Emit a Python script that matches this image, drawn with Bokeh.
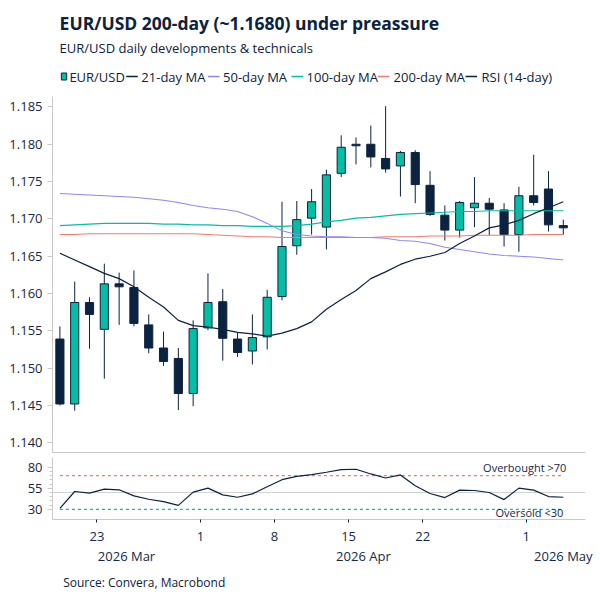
from bokeh.plotting import figure
from bokeh.layouts import column
from bokeh.models import Range1d, FixedTicker, LinearAxis, NumeralTickFormatter
from bokeh.core.properties import value
from bokeh.embed import file_html
from bokeh.resources import INLINE

# ---- data -------------------------------------------------------------
dates = ["2026-03-18", "2026-03-19", "2026-03-20",
         "2026-03-23", "2026-03-24", "2026-03-25", "2026-03-26", "2026-03-27",
         "2026-03-30", "2026-03-31", "2026-04-01", "2026-04-02", "2026-04-03",
         "2026-04-06", "2026-04-07", "2026-04-08", "2026-04-09", "2026-04-10",
         "2026-04-13", "2026-04-14", "2026-04-15", "2026-04-16", "2026-04-17",
         "2026-04-20", "2026-04-21", "2026-04-22", "2026-04-23", "2026-04-24",
         "2026-04-27", "2026-04-28", "2026-04-29", "2026-04-30", "2026-05-01",
         "2026-05-04", "2026-05-05"]

open_ = [1.1539, 1.1452, 1.1588, 1.1552, 1.1613, 1.1608, 1.1558, 1.1527, 1.1513, 1.1466,
         1.1554, 1.1589, 1.1539, 1.1523, 1.1542, 1.1596, 1.1664, 1.1701, 1.1689, 1.1761,
         1.1800, 1.1800, 1.1781, 1.1771, 1.1789, 1.1745, 1.1705, 1.1685, 1.1715, 1.1721,
         1.1712, 1.1679, 1.1731, 1.1740, 1.1691]
high = [1.1556, 1.1616, 1.1595, 1.1640, 1.1628, 1.1631, 1.1572, 1.1549, 1.1527, 1.1564,
        1.1627, 1.1606, 1.1548, 1.1572, 1.1605, 1.1723, 1.1724, 1.1740, 1.1766, 1.1812,
        1.1809, 1.1825, 1.1851, 1.1791, 1.1792, 1.1764, 1.1718, 1.1724, 1.1756, 1.1728,
        1.1721, 1.1743, 1.1786, 1.1764, 1.1699]
low = [1.1450, 1.1443, 1.1526, 1.1486, 1.1558, 1.1556, 1.1520, 1.1503, 1.1444, 1.1449,
       1.1551, 1.1510, 1.1515, 1.1505, 1.1525, 1.1591, 1.1652, 1.1679, 1.1659, 1.1756,
       1.1773, 1.1769, 1.1762, 1.1730, 1.1721, 1.1704, 1.1671, 1.1675, 1.1689, 1.1678,
       1.1663, 1.1656, 1.1718, 1.1683, 1.1679]
close = [1.1452, 1.1588, 1.1572, 1.1613, 1.1609, 1.1560, 1.1527, 1.1509, 1.1466, 1.1553,
         1.1588, 1.1540, 1.1521, 1.1541, 1.1595, 1.1663, 1.1699, 1.1723, 1.1759, 1.1796,
         1.1798, 1.1783, 1.1767, 1.1789, 1.1746, 1.1706, 1.1685, 1.1722, 1.1721, 1.1713,
         1.1679, 1.1731, 1.1722, 1.1692, 1.1688]

ma21 = [1.1654, 1.1645, 1.1636, 1.1627, 1.1620, 1.1609, 1.1595, 1.1582, 1.1564, 1.1557,
        1.1555, 1.1552, 1.1548, 1.1546, 1.1543, 1.1547, 1.1553, 1.1562, 1.1579, 1.1592,
        1.1604, 1.1620, 1.1629, 1.1639, 1.1646, 1.1650, 1.1655, 1.1667, 1.1677, 1.1688,
        1.1692, 1.1698, 1.1707, 1.1715, 1.1723]
ma50 = [1.1734, 1.1733, 1.1732, 1.1731, 1.1730, 1.1729, 1.1727, 1.1725, 1.1722, 1.1718,
        1.1715, 1.1713, 1.1710, 1.1703, 1.1694, 1.1684, 1.1679, 1.1677, 1.1676, 1.1676,
        1.1675, 1.1675, 1.1674, 1.1671, 1.1670, 1.1667, 1.1662, 1.1659, 1.1656, 1.1653,
        1.1651, 1.1650, 1.1649, 1.1647, 1.1645]
ma100 = [1.1691, 1.1692, 1.1693, 1.1694, 1.1694, 1.1694, 1.1694, 1.1693, 1.1693, 1.1692,
         1.1692, 1.1691, 1.1691, 1.1690, 1.1690, 1.1690, 1.1691, 1.1693, 1.1696, 1.1698,
         1.1701, 1.1702, 1.1704, 1.1706, 1.1707, 1.1708, 1.1709, 1.1710, 1.1710, 1.1711,
         1.1711, 1.1711, 1.1711, 1.1711, 1.1711]
ma200 = [1.1679, 1.1679, 1.1680, 1.1680, 1.1680, 1.1680, 1.1680, 1.1680, 1.1680, 1.1680,
         1.1679, 1.1678, 1.1677, 1.1676, 1.1676, 1.1675, 1.1675, 1.1675, 1.1675, 1.1675,
         1.1675, 1.1675, 1.1676, 1.1676, 1.1676, 1.1677, 1.1677, 1.1677, 1.1678, 1.1678,
         1.1678, 1.1678, 1.1679, 1.1679, 1.1679]
rsi = [31.2, 51.2, 49.2, 54.0, 53.2, 46.0, 42.0, 39.2, 34.8, 50.4,
       55.2, 47.2, 44.4, 48.4, 56.8, 65.2, 69.2, 71.2, 74.0, 77.2,
       77.6, 72.0, 67.2, 70.8, 58.0, 48.8, 44.0, 52.8, 52.4, 50.0,
       41.6, 55.2, 52.8, 45.2, 44.4]

day_tick_dates = ["2026-03-23", "2026-04-01", "2026-04-08", "2026-04-15",
                  "2026-04-22", "2026-05-01"]
months = ["2026-03", "2026-04", "2026-05"]
month_labels = ["2026 Mar", "2026 Apr", "2026 May"]
price_ticks = [1.140, 1.145, 1.150, 1.155, 1.160, 1.165, 1.170, 1.175, 1.180, 1.185]
rsi_ticks = [30, 55, 80]
rsi_minor = [35, 40, 45, 50, 60, 65, 70, 75]
overbought = 70
oversold = 30
rsi_mid = 50

title = "EUR/USD 200-day (~1.1680) under preassure"
subtitle = "EUR/USD daily developments & technicals"
source = "Source: Convera, Macrobond"
legend_names = ["EUR/USD", "21-day MA", "50-day MA", "100-day MA", "200-day MA", "RSI (14-day)"]

# ---- style ------------------------------------------------------------
FONT = "Open Sans"
NAVY = "#0b2240"
TEXT = "#14284a"
TEAL = "#00bfa5"
PURPLE = "#9585f0"
SALMON = "#f07c70"
AXIS = "#c9c9c9"
W = 600

idx = list(range(len(dates)))
x_range = Range1d(-0.5, len(dates) - 0.5 + 1)


def blank(h):
    f = figure(width=W, height=h, x_range=Range1d(0, W), y_range=Range1d(h, 0),
               toolbar_location=None, output_backend="svg", min_border=0)
    f.axis.visible = False
    f.grid.visible = False
    f.outline_line_color = None
    return f


# ---- header: title, subtitle, legend ----------------------------------
head = blank(90)
head.text(x=[8], y=[22.5], text=[title], text_font=value(FONT), text_font_size="17.5px",
          text_font_style="bold", text_color=NAVY, text_baseline="middle")
head.text(x=[8], y=[47], text=[subtitle], text_font=value(FONT), text_font_size="13px",
          text_color=NAVY, text_baseline="middle")

leg_y = 76
head.rect(x=[13], y=[leg_y], width=6, height=7, fill_color=TEAL, line_color=NAVY, line_width=1)
leg_line_x = [83, 175, 269, 366, 465]
leg_text_x = [19, 100, 192, 286, 384, 483]
leg_colors = [NAVY, PURPLE, TEAL, SALMON, NAVY]
for x0, c in zip(leg_line_x, leg_colors):
    head.segment(x0=[x0], y0=[leg_y], x1=[x0 + 13], y1=[leg_y], line_color=c, line_width=1.5)
head.text(x=leg_text_x, y=[leg_y] * len(leg_text_x), text=legend_names,
          text_font=value(FONT), text_font_size="13px", text_color=NAVY,
          text_baseline="middle")

# ---- price panel --------------------------------------------------------
main = figure(width=W, height=365, x_range=x_range, y_range=Range1d(1.1387, 1.1864),
              toolbar_location=None, output_backend="svg",
              min_border_left=52, min_border_right=15, min_border_top=6, min_border_bottom=3)
main.grid.visible = False
main.outline_line_color = None

body_top = [max(o, c) for o, c in zip(open_, close)]
body_bot = [min(o, c) for o, c in zip(open_, close)]
body_col = [TEAL if c > o else NAVY for o, c in zip(open_, close)]

main.segment(x0=idx, y0=low, x1=idx, y1=high, line_color=NAVY, line_width=1)
main.vbar(x=idx, width=0.55, top=body_top, bottom=body_bot, fill_color=body_col,
          line_color=NAVY, line_width=1)

main.line(idx, ma200, line_color=SALMON, line_width=1.1)
main.line(idx, ma100, line_color=TEAL, line_width=1.1)
main.line(idx, ma50, line_color=PURPLE, line_width=1.1)
main.line(idx, ma21, line_color=NAVY, line_width=1.2)

main.xaxis.ticker = FixedTicker(ticks=[])
main.xaxis.axis_line_color = AXIS
main.xaxis.major_tick_line_color = None
main.xaxis.minor_tick_line_color = None

main.yaxis.ticker = FixedTicker(ticks=price_ticks)
main.yaxis.formatter = NumeralTickFormatter(format="0.000")
main.yaxis.axis_line_color = AXIS
main.yaxis.major_tick_line_color = AXIS
main.yaxis.major_tick_out = 5
main.yaxis.major_tick_in = 0
main.yaxis.minor_tick_line_color = None
main.yaxis.major_label_standoff = 5
main.yaxis.major_label_text_font = FONT
main.yaxis.major_label_text_font_size = "13px"
main.yaxis.major_label_text_color = TEXT

# ---- RSI panel + date axes ---------------------------------------------
rp = figure(width=W, height=116, x_range=x_range, y_range=Range1d(18, 91.5),
            toolbar_location=None, output_backend="svg",
            min_border_left=52, min_border_right=15, min_border_top=2, min_border_bottom=52)
rp.outline_line_color = None
rp.xgrid.visible = False
rp.ygrid.ticker = FixedTicker(ticks=[rsi_mid])
rp.ygrid.grid_line_color = "#d2d2d2"

rp.line([idx[0], idx[-1]], [overbought, overbought], line_color=SALMON,
        line_width=1.2, line_dash="3 3")
rp.line([idx[0], idx[-1]], [oversold, oversold], line_color=TEAL,
        line_width=1.2, line_dash="3 3")
rp.line(idx, rsi, line_color=NAVY, line_width=1.2)

rp.text(x=[idx[-1]], y=[overbought], text=["Overbought >70"], text_font=value(FONT),
        text_font_size="11px", text_color=TEXT, text_align="right",
        text_baseline="bottom", x_offset=3, y_offset=-1)
rp.text(x=[idx[-1]], y=[oversold], text=["Oversold <30"], text_font=value(FONT),
        text_font_size="11px", text_color=TEXT, text_align="right",
        text_baseline="middle", x_offset=0, y_offset=3)

rp.yaxis.ticker = FixedTicker(ticks=rsi_ticks, minor_ticks=rsi_minor)
rp.yaxis.axis_line_color = AXIS
rp.yaxis.major_tick_line_color = AXIS
rp.yaxis.minor_tick_line_color = AXIS
rp.yaxis.major_tick_out = 5
rp.yaxis.major_tick_in = 0
rp.yaxis.minor_tick_out = 3
rp.yaxis.minor_tick_in = 0
rp.yaxis.major_label_standoff = 5
rp.yaxis.major_label_text_font = FONT
rp.yaxis.major_label_text_font_size = "13px"
rp.yaxis.major_label_text_color = TEXT

# day ticks sit on the boundary before each labelled session
day_pos = [dates.index(d) - 0.5 for d in day_tick_dates]
rp.xaxis.ticker = FixedTicker(ticks=day_pos)
rp.xaxis.major_label_overrides = {p: str(int(d[-2:])) for p, d in zip(day_pos, day_tick_dates)}
rp.xaxis.axis_line_color = AXIS
rp.xaxis.major_tick_line_color = NAVY
rp.xaxis.major_tick_out = 3
rp.xaxis.major_tick_in = 0
rp.xaxis.minor_tick_line_color = None
rp.xaxis.major_label_standoff = 9
rp.xaxis.major_label_text_font = FONT
rp.xaxis.major_label_text_font_size = "13px"
rp.xaxis.major_label_text_color = TEXT

# month captions: centred on each full month, last (partial) month at its last session
month_pos = []
for i, m in enumerate(months):
    members = [k for k, d in enumerate(dates) if d.startswith(m)]
    if i < len(months) - 1:
        month_pos.append((members[0] + members[-1]) / 2)
    else:
        month_pos.append(float(members[-1]))
month_axis = LinearAxis(ticker=FixedTicker(ticks=month_pos),
                        major_label_overrides=dict(zip(month_pos, month_labels)),
                        axis_line_color=None, major_tick_line_color=None,
                        minor_tick_line_color=None, major_label_standoff=-3,
                        major_label_text_font=FONT, major_label_text_font_size="13px",
                        major_label_text_color=TEXT)
rp.add_layout(month_axis, "below")

# ---- footer -------------------------------------------------------------
foot = blank(29)
foot.text(x=[12], y=[11], text=[source], text_font=value(FONT), text_font_size="12px",
          text_color=NAVY, text_baseline="middle")

page = column(head, main, rp, foot, spacing=0)
open("out.html", "w").write(file_html(page, INLINE))
